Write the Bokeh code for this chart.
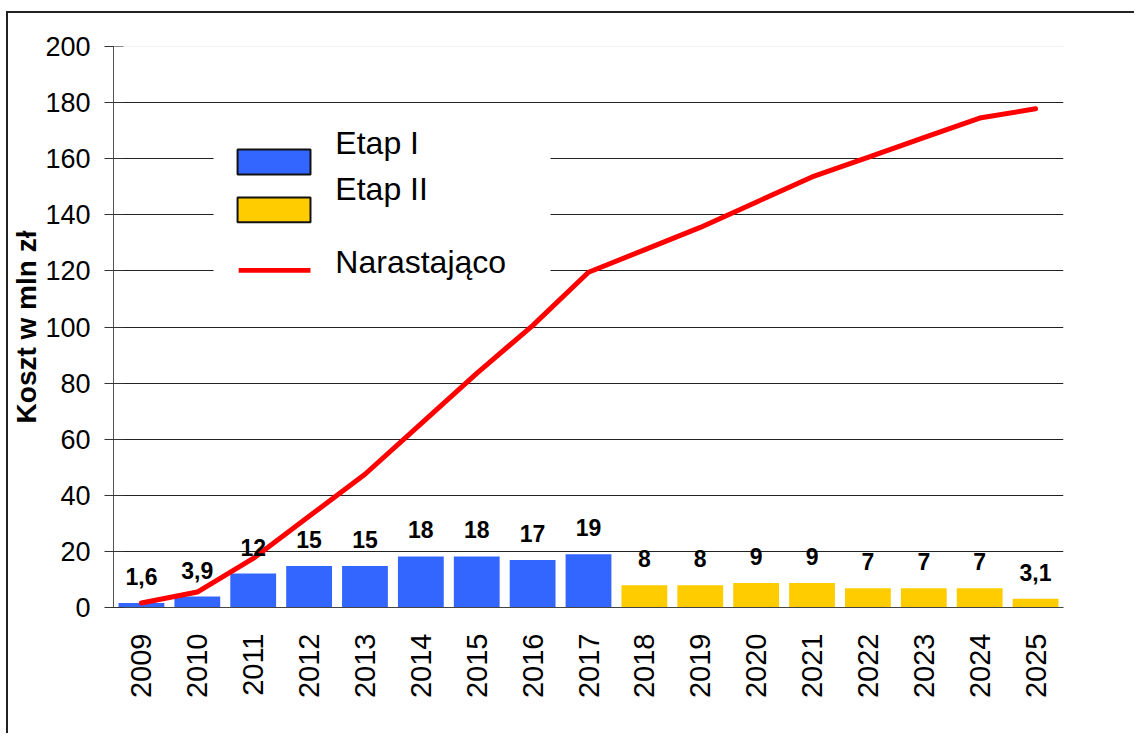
import math
from bokeh.plotting import figure
from bokeh.models import (ColumnDataSource, FactorRange, Range1d, LabelSet, Label,
                          BoxAnnotation, Span, SingleIntervalTicker, FixedTicker)
from bokeh.core.properties import value
from bokeh.embed import file_html
from bokeh.resources import INLINE

# ---------------- data ----------------
years = ["2009", "2010", "2011", "2012", "2013", "2014", "2015", "2016", "2017",
         "2018", "2019", "2020", "2021", "2022", "2023", "2024", "2025"]
stage1_years = ["2009", "2010", "2011", "2012", "2013", "2014", "2015", "2016", "2017"]
stage1_cost = [1.6, 3.9, 12.1, 14.8, 14.8, 18.2, 18.2, 16.9, 19.0]
stage2_years = ["2018", "2019", "2020", "2021", "2022", "2023", "2024", "2025"]
stage2_cost = [7.9, 7.9, 8.7, 8.7, 6.9, 6.9, 6.9, 3.1]
bar_labels = ["1,6", "3,9", "12", "15", "15", "18", "18", "17", "19",
              "8", "8", "9", "9", "7", "7", "7", "3,1"]
bar_heights = stage1_cost + stage2_cost
cumulative = [1.6, 5.5, 17.5, 32.5, 47.5, 65.5, 83.5, 100.5, 119.5,
              127.5, 135.5, 144.5, 153.5, 160.5, 167.5, 174.5, 177.8]
grid_ticks = [20, 40, 60, 80, 100, 120, 140, 160, 180]
legend_labels = ["Etap I", "Etap II", "Narastająco"]

FONT = "Liberation Sans"
BLUE = "#3366FF"
YELLOW = "#FFCC00"
RED = "#FF0000"

p = figure(width=1128, height=722, x_range=FactorRange(factors=years, range_padding=0),
           y_range=Range1d(0, 200), output_backend="svg", toolbar_location=None,
           min_border_left=105, min_border_right=73, min_border_top=33, min_border_bottom=128)
p.outline_line_color = None
p.background_fill_color = "white"
p.border_fill_color = "white"
p.styles = {"border-top": "2px solid #222222", "border-left": "2px solid #222222",
            "margin-left": "6px", "margin-top": "11px"}

# bars
src1 = ColumnDataSource(dict(x=stage1_years, top=stage1_cost))
src2 = ColumnDataSource(dict(x=stage2_years, top=stage2_cost))
p.vbar(x="x", top="top", width=0.82, source=src1, fill_color=BLUE, line_color=None)
p.vbar(x="x", top="top", width=0.82, source=src2, fill_color=YELLOW, line_color=None)

# cumulative line
p.line(x=years, y=cumulative, line_color=RED, line_width=5,
       line_join="round", line_cap="round")

# bar value labels
lab_src = ColumnDataSource(dict(x=years, y=bar_heights, t=bar_labels))
p.add_layout(LabelSet(x="x", y="y", text="t", source=lab_src, y_offset=18,
                      text_align="center", text_baseline="alphabetic",
                      text_font=value(FONT), text_font_size=value("23px"),
                      text_font_style="bold", text_color="black"))

# grid
p.xgrid.grid_line_color = None
p.ygrid.ticker = FixedTicker(ticks=grid_ticks)
p.ygrid.grid_line_color = "#222222"
p.ygrid.grid_line_width = 1
p.add_layout(Span(location=200, dimension="width", line_color="#e3e3e3", line_width=1))

# y axis
ya = p.yaxis[0]
ya.ticker = SingleIntervalTicker(interval=20, num_minor_ticks=0)
ya.axis_line_color = "#555555"
ya.major_tick_line_color = "#333333"
ya.major_tick_in = 10
ya.major_tick_out = 9
ya.minor_tick_line_color = None
ya.major_label_standoff = 14
ya.major_label_text_font = FONT
ya.major_label_text_font_size = "27px"
ya.major_label_text_color = "black"
ya.axis_label = "Koszt w mln zł"
ya.axis_label_text_font = FONT
ya.axis_label_text_font_size = "28px"
ya.axis_label_text_font_style = "bold"
ya.axis_label_text_color = "black"
ya.axis_label_standoff = 0

# x axis
xa = p.xaxis[0]
xa.axis_line_color = "#444444"
xa.major_tick_line_color = None
xa.minor_tick_line_color = None
xa.major_tick_out = 0
xa.major_tick_in = 0
xa.major_label_orientation = math.pi / 2
xa.major_label_standoff = 26
xa.major_label_text_font = FONT
xa.major_label_text_font_size = "29px"
xa.major_label_text_color = "black"

# legend (drawn as annotations, positioned in frame coordinates)
p.add_layout(BoxAnnotation(left=1.79, right=7.82, top=174.3, bottom=109.4,
                           fill_color="white", fill_alpha=1.0, line_color=None))
p.add_layout(BoxAnnotation(left=2.22, right=3.525, top=163.3, bottom=154.4,
                           fill_color=BLUE, fill_alpha=1.0,
                           line_color="#111111", line_alpha=1.0, line_width=2))
p.add_layout(BoxAnnotation(left=2.22, right=3.525, top=146.2, bottom=137.3,
                           fill_color=YELLOW, fill_alpha=1.0,
                           line_color="#111111", line_alpha=1.0, line_width=2))
p.add_layout(BoxAnnotation(left=2.24, right=3.525, top=121.0, bottom=119.3,
                           fill_color=RED, fill_alpha=1.0, line_color=None))
for lab, yy in zip(legend_labels, [165.7, 149.1, 123.0]):
    p.add_layout(Label(x=3.97, y=yy, text=lab, text_font=FONT, text_font_size="32px",
                       text_baseline="alphabetic", text_align="left", text_color="black"))

open("out.html", "w").write(file_html(p, INLINE))
